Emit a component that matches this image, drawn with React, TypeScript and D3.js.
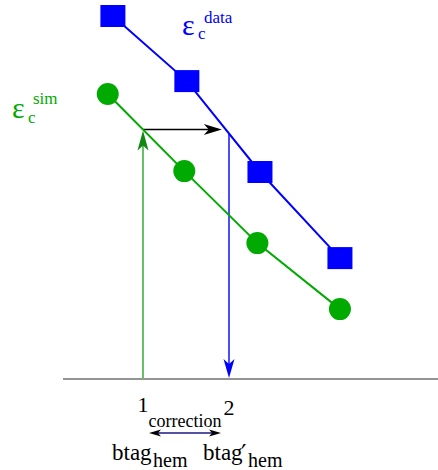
import React from "react";
import * as d3 from "d3";

const dataX = [0.65, 1.51, 2.36, 3.29];
const dataY = [12.1, 9.93, 6.9, 4.03];
const simX = [0.59, 1.48, 2.33, 3.29];
const simY = [9.5, 6.93, 4.53, 2.33];
const tickValues = [1, 2];
const tickLabels = ["1", "2"];

const W = 438;
const H = 470;
const BLUE = "#0000ff";
const GREEN = "#00aa00";
const FONT = "Liberation Serif";

function interpAt(xs: number[], ys: number[], x: number) {
  for (let i = 0; i < xs.length - 1; i++) {
    if (x >= xs[i] && x <= xs[i + 1]) {
      const t = (x - xs[i]) / (xs[i + 1] - xs[i]);
      return ys[i] + t * (ys[i + 1] - ys[i]);
    }
  }
  return ys[0];
}
function xAtY(xs: number[], ys: number[], y: number) {
  for (let i = 0; i < xs.length - 1; i++) {
    const a = ys[i], b = ys[i + 1];
    if ((y <= a && y >= b) || (y >= a && y <= b)) {
      const t = (y - a) / (b - a);
      return xs[i] + t * (xs[i + 1] - xs[i]);
    }
  }
  return xs[0];
}

function arrowHead(tx: number, ty: number, ang: number, len = 18, half = 5.5, notch = 5) {
  const c = Math.cos(ang), s = Math.sin(ang);
  const pt = (along: number, side: number) => [tx - c * along - s * side, ty - s * along + c * side];
  const p1 = pt(len, half);
  const p2 = pt(len - notch, 0);
  const p3 = pt(len, -half);
  return `M${tx},${ty}L${p1[0]},${p1[1]}L${p2[0]},${p2[1]}L${p3[0]},${p3[1]}Z`;
}

function T(props: { x: number; y: number; size: number; fill?: string; anchor?: string; family?: string; children: React.ReactNode }) {
  return (
    <text
      x={props.x}
      y={props.y}
      textAnchor={props.anchor || "start"}
      fill={props.fill || "#000"}
      style={{ fontFamily: props.family || FONT, fontSize: props.size + "px" }}
    >
      {props.children}
    </text>
  );
}

export default function App() {
  const x = d3.scaleLinear().domain([0, 4]).range([57, 401]);
  const y = d3.scaleLinear().domain([0, 12]).range([379, 19]);

  const dataPts = dataX.map((v, i) => [x(v), y(dataY[i])] as [number, number]);
  const simPts = simX.map((v, i) => [x(v), y(simY[i])] as [number, number]);
  const line = d3.line();

  const simAt1 = interpAt(simX, simY, tickValues[0]);
  const dataCross = xAtY(dataX, dataY, simAt1);
  const xs1 = x(tickValues[0]);
  const xs2 = x(tickValues[1]);
  const yArrow = y(simAt1);
  const yAxis = y(0);
  const blueTop = y(interpAt(dataX, dataY, tickValues[1]));

  return (
    <svg width={W} height={H} style={{ position: "absolute", left: 0, top: 0, background: "#fff" }}>
      <line x1={63} x2={438} y1={yAxis} y2={yAxis} stroke="#707070" strokeWidth={1.6} />

      <line x1={xs1} x2={xs1} y1={yAxis} y2={yArrow + 10} stroke="#66c066" strokeWidth={2} />
      <path d={arrowHead(xs1, yArrow + 1, -Math.PI / 2, 20, 5.5, 5)} fill="#118811" />

      <line x1={xs1} x2={x(dataCross) - 8} y1={yArrow} y2={yArrow} stroke="#000" strokeWidth={1.3} />
      <path d={arrowHead(x(dataCross) - 4, yArrow, 0, 18, 5.5, 5)} fill="#000" />

      <line x1={xs2} x2={xs2} y1={blueTop} y2={yAxis - 8} stroke={BLUE} strokeWidth={1.4} />
      <path d={arrowHead(xs2, yAxis - 1, Math.PI / 2, 19, 5.5, 5)} fill={BLUE} />

      <path d={line(dataPts) || ""} fill="none" stroke={BLUE} strokeWidth={2} />
      <path d={line(simPts) || ""} fill="none" stroke={GREEN} strokeWidth={2} />

      {dataPts.map((p, i) => (
        <rect key={"d" + i} x={p[0] - 12.5} y={p[1] - 11} width={25} height={22} fill={BLUE} />
      ))}
      {simPts.map((p, i) => (
        <circle key={"s" + i} cx={p[0]} cy={p[1]} r={11} fill={GREEN} />
      ))}

      <T x={182} y={35} size={30} fill={BLUE}>ε</T>
      <T x={198} y={39} size={17} fill={BLUE}>c</T>
      <T x={204} y={23} size={17} fill={BLUE}>data</T>

      <T x={12} y={118} size={30} fill={GREEN}>ε</T>
      <T x={28} y={123} size={17} fill={GREEN}>c</T>
      <T x={33} y={104} size={17} fill={GREEN}>sim</T>

      {tickValues.map((t, i) => (
        <T key={t} x={x(t)} y={i === 0 ? 412 : 415} size={22} anchor="middle">
          {tickLabels[i]}
        </T>
      ))}

      <T x={185} y={427} size={18} anchor="middle">correction</T>
      <line x1={158} x2={213} y1={433} y2={433} stroke="#1a1a80" strokeWidth={1.5} />
      <path d={arrowHead(149, 433, Math.PI, 12, 3.5, 3)} fill="#000" />
      <path d={arrowHead(221, 433, 0, 12, 3.5, 3)} fill="#000" />

      <T x={112} y={460} size={23}>btag</T>
      <T x={153} y={467} size={20}>hem</T>
      <T x={203} y={460} size={23}>btag</T>
      <T x={241} y={462} size={24} family="DejaVu Serif">′</T>
      <T x={248} y={467} size={20}>hem</T>
    </svg>
  );
}
